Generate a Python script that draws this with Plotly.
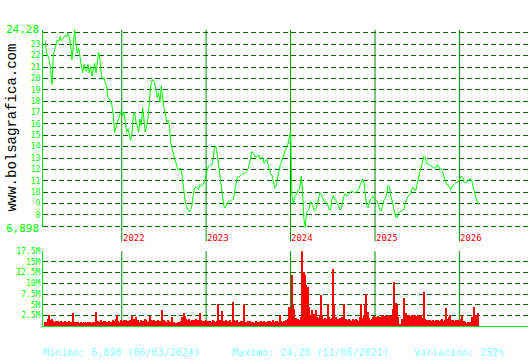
import pandas as pd
import plotly.graph_objects as go

# ---------------- data ----------------
START_DATE = "2021-02-04"
END_DATE = "2026-03-25"

PRICE = [
    23.26, 22.22, 21.93, 21.64, 20.77, 19.47, 22.07, 22.65, 22.94, 23.38,
    23.23, 23.66, 23.32, 23.43, 23.6, 23.81, 23.66, 23.95, 23.6, 22.94,
    21.64, 23.38, 24.28, 23.09, 22.22, 22.65, 21.93, 20.92, 20.49, 21.21,
    20.77, 20.63, 21.21, 20.49, 21.06, 20.2, 20.92, 21.35, 20.49, 21.64,
    22.31, 21.64, 20.34, 19.91, 20.05, 19.62, 19.33, 18.32, 18.17, 18.03,
    17.6, 16.73, 15.28, 15.86, 16.15, 16.44, 16.87, 17.16, 16.73, 17.02,
    16.15, 15.28, 15.57, 14.99, 14.56, 15.14, 16.73, 17.02, 16.15, 15.86,
    15.28, 16.44, 15.86, 17.45, 16.44, 15.28, 15.86, 16.44, 17.88, 19.33,
    19.76, 19.91, 19.62, 19.04, 18.32, 18.75, 17.88, 19.33, 18.17, 17.45,
    17.02, 16.15, 16.3, 16.0,
    14.35, 13.88, 13.42, 12.96, 12.49, 12.15, 11.94, 12.12, 12.03, 10.96,
    9.8, 9.13, 8.73, 8.44, 8.26, 8.44, 8.84, 9.8, 10.38, 10.46,
    10.29, 10.23, 10.67, 10.52, 10.58, 10.87, 11.16, 11.74, 12.2, 12.32,
    12.41, 12.41, 12.99, 14.0, 14.0, 13.28, 12.41, 11.54, 10.67, 9.65,
    8.73, 8.64, 9.01, 9.22, 9.22, 9.3, 9.3, 9.36, 10.0, 10.75,
    11.33, 11.33, 11.39, 11.54, 11.62, 11.62, 11.68, 11.83, 12.03, 12.49,
    12.99, 13.57, 13.42, 13.19, 13.07, 13.13, 13.28, 12.9, 12.99, 13.07,
    12.55, 12.7, 12.9, 12.49, 11.91, 11.62, 11.45, 10.96, 10.38, 10.46,
    11.1, 11.83, 12.32, 12.61, 12.99, 13.28, 13.65, 14.0, 14.23, 14.73,
    15.4, 9.65, 8.93, 9.65, 9.71, 10.0, 10.23, 10.38, 11.39, 9.94,
    7.62, 6.898, 8.2, 8.35, 8.55, 9.13, 9.07, 8.64, 8.35, 8.49,
    9.07, 9.59, 9.94, 9.8, 9.42, 9.22, 9.13, 9.07, 8.84, 8.44,
    8.44, 9.36, 9.71, 9.42, 9.13, 9.01, 8.84, 8.44, 8.55, 9.13,
    9.65, 9.88, 9.65, 9.8, 9.94, 10.0, 10.09, 10.0, 9.94, 10.0,
    10.09, 10.23, 10.58, 10.87, 11.16, 10.87, 9.88, 8.84, 8.64, 9.01,
    9.42, 9.51, 9.65, 9.36, 9.3, 9.22, 8.84, 8.44, 8.35, 8.78,
    9.3, 9.42, 9.8, 10.58, 10.52, 9.8, 9.3, 8.73, 8.2, 7.77,
    7.77, 8.2, 8.26, 8.35, 8.44, 8.49, 9.01, 9.42, 9.65, 9.71,
    9.88, 10.29, 10.46, 10.17, 10.17, 10.75, 11.39, 11.83, 12.2, 12.7,
    13.19, 13.07, 12.55, 12.49, 12.41, 12.32, 12.26, 12.2, 12.12, 12.12,
    12.41, 12.32, 12.03, 12.03, 11.83, 11.39, 11.04, 10.67, 10.67, 10.46,
    10.23, 10.46, 10.67, 10.75, 10.81, 10.87, 10.96, 11.16, 11.39, 11.33,
    10.87, 10.81, 10.87, 10.96, 11.16, 11.16, 10.96, 10.46, 9.88, 9.51,
    9.22, 8.93,
]

VOLUME_M = [
    0.8, 1.0, 1.5, 2.5, 1.4, 1.6, 1.2, 1.0, 1.1, 0.9,
    1.1, 0.9, 1.2, 1.0, 0.8, 1.1, 1.0, 0.9, 1.2, 1.0,
    0.9, 3.0, 1.0, 0.8, 0.7, 0.9, 0.6, 0.8, 0.7, 0.9,
    0.8, 0.6, 0.9, 0.7, 0.8, 0.6, 0.9, 1.0, 3.2, 0.9,
    1.2, 1.0, 1.3, 0.9, 1.1, 1.2, 1.0, 0.8, 1.1, 1.0,
    0.9, 1.3, 1.1, 1.5, 2.5, 1.2, 1.0, 1.4, 1.1, 1.3,
    1.0, 1.4, 1.2, 0.9, 1.3, 2.3, 1.1, 1.5, 2.1, 1.2,
    1.3, 1.0, 1.4, 1.2, 1.1, 1.5, 1.3, 1.0, 1.2, 2.2,
    1.3, 1.1, 1.4, 1.2, 1.0, 1.3, 1.1, 1.2, 3.6, 1.4,
    1.2, 1.0, 1.3, 1.1, 0.8, 2.0, 0.7, 0.8, 0.6, 0.7,
    0.8, 0.9, 1.2, 2.0, 3.0, 2.2, 1.5, 1.3, 1.6, 1.2,
    1.4, 1.1, 1.3, 1.5, 1.2, 1.4, 3.0, 1.3, 1.1, 1.2,
    1.0, 1.3, 1.1, 0.9, 1.2, 1.0, 1.3, 1.1, 0.9, 1.2,
    5.0, 1.3, 1.1, 3.4, 1.2, 1.0, 1.4, 1.2, 1.1, 1.3,
    1.0, 5.5, 1.4, 1.1, 1.3, 1.0, 0.9, 1.2, 1.1, 5.2,
    1.0, 0.8, 1.1, 0.9, 1.2, 0.8, 1.0, 0.7, 1.1, 0.9,
    1.0, 0.8, 1.2, 0.9, 1.1, 0.8, 1.0, 1.2, 0.9, 1.1,
    1.0, 1.3, 0.9, 1.1, 1.2, 1.0, 2.5, 1.1, 0.9, 1.2,
    1.0, 1.3, 1.5, 4.4, 4.0, 11.8, 5.2, 4.0, 1.8, 1.5,
    1.7, 1.4, 2.0, 17.5, 12.6, 12.0, 9.5, 9.0, 4.4, 2.5,
    3.6, 2.2, 2.8, 3.6, 2.0, 1.8, 2.5, 7.2, 2.5, 1.5,
    1.8, 1.6, 5.2, 2.0, 1.7, 1.9, 13.4, 5.2, 2.0, 1.6,
    1.5, 1.8, 1.4, 2.0, 5.2, 1.7, 1.5, 1.3, 1.6, 1.4,
    1.2, 1.5, 1.3, 1.6, 1.4, 1.2, 2.0, 5.2, 1.8, 2.4,
    4.8, 7.5, 3.2, 1.8, 1.3, 1.5, 2.0, 2.2, 2.0, 1.8,
    2.2, 2.0, 1.8, 2.5, 2.4, 2.2, 2.5, 2.3, 2.6, 2.4,
    2.2, 4.0, 10.3, 5.4, 4.8, 2.0, 0.5, 0.2, 1.5, 6.5,
    2.0, 3.0, 2.2, 2.5, 2.4, 2.6, 2.3, 2.5, 2.2, 2.4,
    2.6, 2.3, 2.5, 1.8, 8.0, 1.6, 1.3, 1.4, 1.2, 1.3,
    1.1, 1.4, 1.2, 1.3, 1.1, 1.4, 1.2, 1.3, 1.5, 1.2,
    1.3, 4.2, 1.5, 2.0, 2.5, 1.4, 1.3, 1.2, 1.4, 1.1,
    1.3, 1.2, 1.5, 2.6, 1.2, 0.8, 0.7, 0.9, 0.8, 1.0,
    2.0, 1.6, 4.4, 2.5, 1.8, 3.0,
]

YEARS = ["2022", "2023", "2024", "2025", "2026"]

PRICE_MIN, PRICE_MAX = 6.898, 24.28
PRICE_TICKS = [6.898, 7, 8, 9, 10, 11, 12, 13, 14, 15, 16, 17, 18, 19, 20,
               21, 22, 23, 24, 24.28]
PRICE_TICKTEXT = ["", "", "8", "9", "10", "11", "12", "13", "14", "15", "16",
                  "17", "18", "19", "20", "21", "22", "23", "", ""]
VOL_TICKS = [2.5, 5, 7.5, 10, 12.5, 15, 17.5]
VOL_TICKTEXT = ["2.5M", "5M", "7.5M", "10M", "12.5M", "15M", "17.5M"]

FOOTER = ["Minimo: 6,898 (06/03/2024)", "Maximo: 24,28 (11/06/2021)",
          "Variación: 252%"]
WATERMARK = "www.bolsagrafica.com"

# ---------------- figure ----------------
dates = pd.date_range(START_DATE, END_DATE, periods=len(PRICE))

W, H = 530, 360
ML, MR = 43, 2
PW = W - ML - MR


def py(px):
    return 1 - px / H


def pxx(px):
    return (px - ML) / PW


MONO = "DejaVu Sans Mono"
THIN = "Liberation Mono"
GRID = "#006400"
VLINE = "#008c00"
AXIS = "#00dd00"
LABEL = "#00ff00"

fig = go.Figure()

fig.add_trace(go.Bar(
    x=dates, y=VOLUME_M, xaxis="x2", yaxis="y2",
    marker=dict(color="#ff0000", line=dict(width=0)),
    hoverinfo="skip",
))
fig.add_trace(go.Scatter(
    x=dates, y=PRICE, mode="lines", xaxis="x", yaxis="y",
    line=dict(color="#00ff00", width=1), hoverinfo="skip",
))

xrange = ["2021-01-25", "2026-10-25"]
price_dom = [py(226), py(26)]
vol_dom = [py(325.7), py(250)]

fig.update_layout(
    width=W, height=H,
    margin=dict(l=ML, r=MR, t=0, b=0),
    paper_bgcolor="white", plot_bgcolor="white",
    showlegend=False, bargap=0,
    font=dict(family=MONO, size=8, color=LABEL),
    xaxis=dict(domain=[0, 1], range=xrange, type="date",
               showgrid=False, showticklabels=False, zeroline=False,
               showline=False, anchor="y"),
    yaxis=dict(domain=price_dom, range=[PRICE_MIN, PRICE_MAX],
               tickvals=PRICE_TICKS, ticktext=PRICE_TICKTEXT,
               showgrid=True, gridcolor=GRID, griddash="5px,3px", gridwidth=1,
               showline=True, linecolor=AXIS, linewidth=1,
               ticks="", zeroline=False,
               tickfont=dict(family=MONO, size=8, color=LABEL),
               anchor="x"),
    xaxis2=dict(domain=[0, 1], range=xrange, type="date",
                showgrid=False, showticklabels=False, zeroline=False,
                showline=True, linecolor=AXIS, linewidth=1, anchor="y2"),
    yaxis2=dict(domain=vol_dom, range=[0, 17.5],
                tickvals=VOL_TICKS, ticktext=VOL_TICKTEXT,
                showgrid=True, gridcolor=GRID, griddash="5px,3px", gridwidth=1,
                showline=True, linecolor=AXIS, linewidth=1,
                ticks="", zeroline=False, ticklabelstandoff=0,
                tickfont=dict(family=MONO, size=8, color=LABEL),
                anchor="x2"),
)

shapes = []
annotations = []
for yr in YEARS:
    d = f"{yr}-01-01"
    shapes.append(dict(type="line", xref="x", yref="paper", x0=d, x1=d,
                       y0=py(240), y1=price_dom[1],
                       line=dict(color=VLINE, width=1), layer="below"))
    shapes.append(dict(type="line", xref="x", yref="paper", x0=d, x1=d,
                       y0=vol_dom[0], y1=vol_dom[1],
                       line=dict(color=VLINE, width=1), layer="below"))
    annotations.append(dict(text=yr, xref="x", yref="paper", x=d, y=py(237),
                            xanchor="left", yanchor="middle", showarrow=False,
                            xshift=-1,
                            font=dict(family=MONO, size=9, color="#ff0000")))

annotations.append(dict(text="24,28", xref="paper", yref="y", x=0,
                        y=PRICE_MAX, xanchor="right", yanchor="middle",
                        showarrow=False, xshift=-2,
                        font=dict(family=MONO, size=11, color=LABEL)))
annotations.append(dict(text="6,898", xref="paper", yref="y", x=0,
                        y=PRICE_MIN, xanchor="right", yanchor="middle",
                        showarrow=False, xshift=-2, yshift=-1,
                        font=dict(family=MONO, size=11, color=LABEL)))

annotations.append(dict(text=WATERMARK, xref="paper", yref="paper",
                        x=pxx(12), y=py(125), xanchor="center",
                        yanchor="middle", textangle=-90, showarrow=False,
                        font=dict(family=THIN, size=14, color="#000000")))

for txt, xp in zip(FOOTER, [43, 232, 414]):
    annotations.append(dict(text=txt, xref="paper", yref="paper",
                            x=pxx(xp), y=py(352), xanchor="left",
                            yanchor="middle", showarrow=False, xshift=-2,
                            font=dict(family=MONO, size=10, color="#88ffff")))

fig.update_layout(shapes=shapes, annotations=annotations)

fig.write_html("out.html", config={"displayModeBar": False})
